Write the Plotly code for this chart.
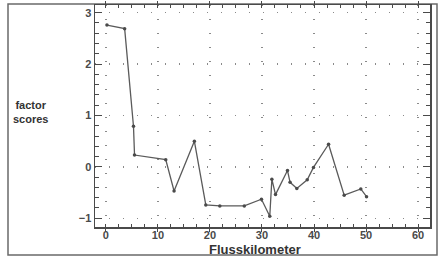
import plotly.graph_objects as go

km = [0.2, 3.6, 5.3, 5.5, 11.5, 13.1, 17.0, 19.2, 21.9, 26.6, 29.9, 31.5, 31.9, 32.6,
      34.9, 35.4, 36.7, 38.7, 39.9, 42.8, 45.8, 49.0, 50.1]
scores = [2.76, 2.69, 0.79, 0.23, 0.14, -0.47, 0.50, -0.74, -0.76, -0.76, -0.63, -0.96,
          -0.24, -0.54, -0.07, -0.30, -0.42, -0.25, -0.01, 0.44, -0.55, -0.43, -0.58]
x_tick_step = 10
y_tick_step = 1

INK = "#4a4a4a"
W, H = 441, 257
L, R, T, B = 95, 11, 5, 30
pw, ph = W - L - R, H - T - B

def px(x):
    return (x - L) / pw

def py(y):
    return (H - B - y) / ph

fig = go.Figure()
fig.add_trace(go.Scatter(
    x=km, y=scores, mode="lines+markers",
    line=dict(color="#5a5a5a", width=1.3),
    marker=dict(color="#4a4a4a", size=3.5),
    showlegend=False, cliponaxis=False, hoverinfo="skip",
))

axis_common = dict(
    showline=True, linecolor=INK, linewidth=1.5, mirror="allticks",
    showgrid=True, gridcolor="#8a8a8a", gridwidth=1.3,
    zeroline=False, automargin=False, tickmode="linear", tick0=0,
    tickfont=dict(family="Liberation Sans, Arial", size=11, color=INK, weight="bold"),
    tickcolor=INK,
)

fig.update_xaxes(
    range=[-2.1, 62.3], dtick=x_tick_step,
    ticks="outside", ticklen=3, griddash="1px,13px", ticklabelstandoff=-6,
    minor=dict(dtick=2.5, ticks="inside", ticklen=3, tickcolor=INK, showgrid=False),
    **axis_common,
)
fig.update_yaxes(
    range=[-1.17, 3.15], dtick=y_tick_step,
    ticks="inside", ticklen=7, griddash="1px,13px",
    minor=dict(dtick=0.2, ticks="inside", ticklen=4, tickcolor=INK, showgrid=False),
    **axis_common,
)

fig.add_shape(type="rect", xref="paper", yref="paper",
              x0=px(8), x1=px(437), y0=py(255), y1=py(4),
              line=dict(color="#6a6a6a", width=1.5), layer="below")

fig.add_annotation(xref="paper", yref="paper", x=px(30), y=py(112),
                   xanchor="center", yanchor="middle",
                   text="factor<br>scores", showarrow=False,
                   font=dict(family="Liberation Sans, Arial", size=11, color="#333", weight="bold"),
                   align="center")
fig.add_annotation(xref="paper", yref="paper", x=px(255), y=py(249),
                   xanchor="center", yanchor="middle",
                   text="Flusskilometer", showarrow=False,
                   font=dict(family="Liberation Sans, Arial", size=13, color="#333", weight="bold"))

fig.update_layout(
    width=W, height=H,
    margin=dict(l=L, r=R, t=T, b=B, autoexpand=False),
    paper_bgcolor="white", plot_bgcolor="white",
)
fig.write_html("out.html", config={"displayModeBar": False, "staticPlot": True},
               post_script="document.body.style.margin='0';")
